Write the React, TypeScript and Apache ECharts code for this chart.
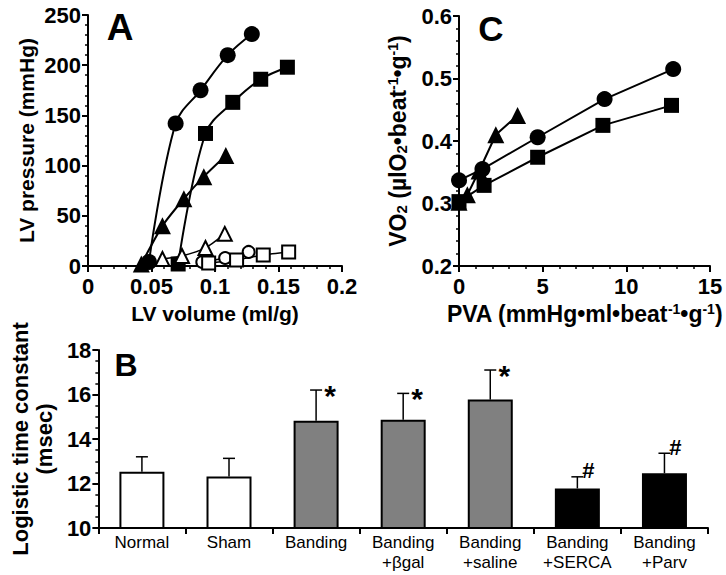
import React, { useEffect, useRef } from "react";
import * as echarts from "echarts";

// Panel A: LV pressure (mmHg) vs LV volume (ml/g)
const aFilledCircle: number[][] = [[0.048, 4], [0.069, 142], [0.0886, 175], [0.11, 210], [0.129, 231]];
const aFilledSquare: number[][] = [[0.071, 2], [0.0925, 132], [0.114, 163], [0.136, 186], [0.157, 198]];
const aFilledTriangle: number[][] = [[0.042, 2], [0.0586, 40], [0.0755, 67], [0.0912, 89], [0.1085, 110]];
const aOpenTriangle: number[][] = [[0.0586, 7], [0.074, 10], [0.0925, 18], [0.1077, 32]];
const aOpenCircle: number[][] = [[0.09, 4], [0.108, 8], [0.1265, 14]];
const aOpenSquare: number[][] = [[0.095, 3], [0.117, 6], [0.138, 11], [0.158, 14]];

// Panel C: VO2 vs PVA
const cCircle: number[][] = [[0, 0.337], [1.4, 0.355], [4.7, 0.406], [8.7, 0.467], [12.8, 0.515]];
const cSquare: number[][] = [[0, 0.303], [1.5, 0.329], [4.7, 0.374], [8.6, 0.425], [12.7, 0.457]];
const cTriangle: number[][] = [[0, 0.302], [0.5, 0.314], [1.2, 0.352], [2.2, 0.41], [3.5, 0.441]];

// Panel B: logistic time constant
const bCategories = ["Normal", "Sham", "Banding", "Banding\n+βgal", "Banding\n+saline", "Banding\n+SERCA", "Banding\n+Parv"];
const bValues = [12.53, 12.31, 14.82, 14.86, 15.77, 11.78, 12.46];
const bErrors = [0.67, 0.82, 1.38, 1.19, 1.33, 0.52, 0.9];
const bMarks = ["", "", "*", "*", "*", "#", "#"];
const bColors = ["#ffffff", "#ffffff", "#808080", "#808080", "#808080", "#000000", "#000000"];

const FONT = "'Liberation Sans', Arial, sans-serif";
const tickFont = { fontFamily: FONT, fontWeight: "bold" as const, fontSize: 22, color: "#000" };
const nameFont = { fontFamily: FONT, fontWeight: "bold" as const, fontSize: 21, color: "#000" };
const cNameFont = { fontFamily: FONT, fontWeight: "bold" as const, fontSize: 23, color: "#000" };

function valAxis(gridIndex: number, min: number, max: number, interval: number, minorSplit: number, extra: any = {}) {
  return {
    type: "value",
    gridIndex,
    min,
    max,
    interval,
    splitLine: { show: false },
    axisLine: { show: true, onZero: false, lineStyle: { color: "#000", width: 2 } },
    axisTick: { show: true, length: 6, lineStyle: { color: "#000", width: 2 } },
    minorTick: { show: true, splitNumber: minorSplit, length: 3, lineStyle: { color: "#000", width: 1.5 } },
    axisLabel: { ...tickFont, margin: 7 },
    ...extra,
  };
}

function lineSeries(data: number[][], symbol: string, size: number, open: boolean, ax: number, smooth: number | boolean) {
  return {
    type: "line",
    xAxisIndex: ax,
    yAxisIndex: ax,
    data,
    symbol,
    symbolSize: size,
    smooth,
    showAllSymbol: true,
    lineStyle: { color: "#000", width: open ? 1.5 : 2 },
    itemStyle: open
      ? { color: "#fff", borderColor: "#000", borderWidth: 2 }
      : { color: "#000", borderColor: "#000", borderWidth: 0 },
    z: open ? 4 : 3,
  };
}

const supStyle = { fontFamily: FONT, fontWeight: "bold", fontSize: 14, color: "#000", verticalAlign: "top", lineHeight: 23 };
const subStyle = { fontFamily: FONT, fontWeight: "bold", fontSize: 15, color: "#000", verticalAlign: "bottom", lineHeight: 23 };

export default function App() {
  const ref = useRef<HTMLDivElement>(null);
  useEffect(() => {
    if (!ref.current) return;
    const chart = echarts.init(ref.current, undefined, { renderer: "svg" });
    const option: any = {
      animation: false,
      backgroundColor: "#fff",
      grid: [
        { left: 88, top: 15, width: 254, height: 251 },
        { left: 459, top: 16, width: 251, height: 250 },
        { left: 92, top: 350, width: 616, height: 178 },
      ],
      xAxis: [
        valAxis(0, 0, 0.2, 0.05, 5, {
          name: "LV volume (ml/g)",
          nameLocation: "middle",
          nameGap: 37,
          nameTextStyle: nameFont,
          axisLabel: { ...tickFont, margin: 9 },
        }),
        valAxis(1, 0, 15, 5, 5, {
          name: "PVA (mmHg•ml•beat{sup|-1}•g{sup|-1})",
          nameLocation: "middle",
          nameGap: 36,
          nameTextStyle: { ...cNameFont, rich: { sup: supStyle } },
          axisLabel: { ...tickFont, margin: 9 },
        }),
        {
          type: "category",
          gridIndex: 2,
          data: bCategories,
          axisLine: { show: true, lineStyle: { color: "#000", width: 2 } },
          axisTick: { show: true, length: 6, alignWithLabel: false, lineStyle: { color: "#000", width: 2 } },
          axisLabel: { fontFamily: FONT, fontSize: 17, color: "#000", interval: 0, margin: 4, lineHeight: 20 },
          splitLine: { show: false },
        },
      ],
      yAxis: [
        valAxis(0, 0, 250, 50, 5, {
          name: "LV pressure (mmHg)",
          nameLocation: "middle",
          nameGap: 51,
          nameTextStyle: nameFont,
        }),
        valAxis(1, 0.2, 0.6, 0.1, 5, {
          name: "VO{sub|2} (µlO{sub|2}•beat{sup|-1}•g{sup|-1})",
          nameLocation: "middle",
          nameGap: 50,
          nameTextStyle: { ...cNameFont, rich: { sup: supStyle, sub: subStyle } },
          axisLabel: { ...tickFont, margin: 7, formatter: (v: number) => v.toFixed(1) },
        }),
        valAxis(2, 10, 18, 2, 4, {
          name: "Logistic time constant\n(msec)",
          nameLocation: "middle",
          nameGap: 42,
          nameTextStyle: { ...nameFont, fontSize: 22, lineHeight: 24 },
        }),
      ],
      series: [
        lineSeries(aFilledCircle, "circle", 16, false, 0, 0.35),
        lineSeries(aFilledSquare, "rect", 15, false, 0, 0.35),
        lineSeries(aFilledTriangle, "triangle", 17, false, 0, 0.2),
        lineSeries(aOpenTriangle, "triangle", 14, true, 0, 0.2),
        lineSeries(aOpenCircle, "circle", 12, true, 0, 0.2),
        lineSeries(aOpenSquare, "rect", 13, true, 0, 0.2),
        lineSeries(cCircle, "circle", 16, false, 1, false),
        lineSeries(cSquare, "rect", 15, false, 1, false),
        lineSeries(cTriangle, "triangle", 17, false, 1, false),
        {
          type: "bar",
          xAxisIndex: 2,
          yAxisIndex: 2,
          barWidth: 45,
          data: bValues.map((v, i) => ({
            value: v,
            itemStyle: { color: bColors[i], borderColor: "#000", borderWidth: 2 },
          })),
          z: 2,
        },
        {
          type: "custom",
          xAxisIndex: 2,
          yAxisIndex: 2,
          data: bValues.map((v, i) => [i, v, bErrors[i]]),
          z: 3,
          renderItem: (params: any, api: any) => {
            const i = api.value(0);
            const v = api.value(1);
            const e = api.value(2);
            const p0 = api.coord([i, v]);
            const p1 = api.coord([i, v + e]);
            const mark = bMarks[params.dataIndex];
            const children: any[] = [
              { type: "line", shape: { x1: p0[0], y1: p0[1], x2: p1[0], y2: p1[1] }, style: { stroke: "#000", lineWidth: 1.5 } },
              { type: "line", shape: { x1: p1[0] - 6, y1: p1[1], x2: p1[0] + 6, y2: p1[1] }, style: { stroke: "#000", lineWidth: 1.5 } },
            ];
            if (mark) {
              const isStar = mark === "*";
              children.push({
                type: "text",
                x: p1[0] + (isStar ? 14 : 11),
                y: p1[1] + (isStar ? 5 : -6),
                style: {
                  text: mark,
                  fontFamily: FONT,
                  fontWeight: "bold",
                  fontSize: isStar ? 30 : 22,
                  fill: "#000",
                  align: "center",
                  verticalAlign: "middle",
                },
              });
            }
            return { type: "group", children };
          },
        },
      ],
      graphic: [
        { type: "text", x: 120, y: 27, style: { text: "A", fontFamily: FONT, fontWeight: "bold", fontSize: 37, fill: "#000", align: "center", verticalAlign: "middle" } },
        { type: "text", x: 491, y: 28, style: { text: "C", fontFamily: FONT, fontWeight: "bold", fontSize: 35, fill: "#000", align: "center", verticalAlign: "middle" } },
        { type: "text", x: 126, y: 365, style: { text: "B", fontFamily: FONT, fontWeight: "bold", fontSize: 32, fill: "#000", align: "center", verticalAlign: "middle" } },
      ],
    };
    chart.setOption(option);
    return () => chart.dispose();
  }, []);
  return <div ref={ref} style={{ position: "fixed", left: 0, top: 0, width: 726, height: 575, background: "#fff" }} />;
}
